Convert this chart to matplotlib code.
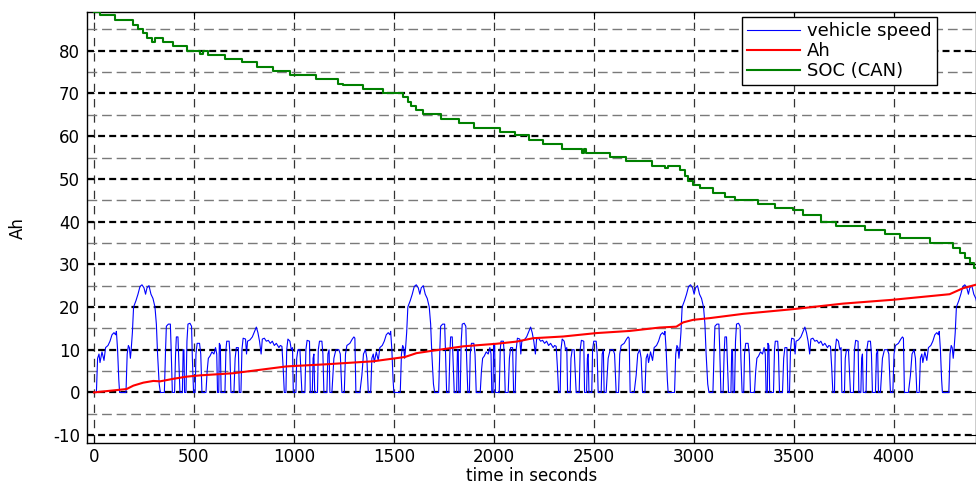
import numpy as np
import matplotlib
matplotlib.use("Agg")
import matplotlib.pyplot as plt
from matplotlib.ticker import MultipleLocator

# vehicle speed: one drive cycle (time in s, speed), repeated at the cycle starts
CYCLE_T = [0, 12, 18, 25, 30, 40, 50, 58, 70, 80, 90, 100, 108, 112, 118, 124, 128,
           160, 166, 172, 177, 182, 186, 192, 198, 210, 220, 230, 240, 250, 258, 265, 275, 285, 295, 305, 312, 318, 326, 332,
           352, 358, 362, 372, 382, 386, 392,
           403, 408, 412, 420, 424, 430,
           442, 446, 450, 453,
           460, 465, 470, 480, 488, 492, 498,
           506, 510, 516, 528, 534, 540,
           560, 566, 572, 580, 590, 600, 608, 614, 618,
           624, 627, 632, 636,
           655, 660, 664, 676, 680, 685,
           700, 706, 712, 722, 727,
           735, 740, 746, 758, 763, 768, 780, 792, 805, 812, 820, 828, 836, 842, 852, 862, 872, 882, 892, 902, 912, 925, 932, 940, 946, 952,
           960, 964, 970, 980, 987, 993, 997,
           1010, 1014, 1020, 1030, 1034, 1040,
           1055, 1060, 1066, 1078, 1082,
           1092, 1096, 1100, 1104,
           1118, 1122, 1128, 1140, 1145, 1150,
           1165, 1170, 1176, 1180,
           1190, 1200, 1210, 1225, 1232, 1240,
           1252, 1258, 1265, 1280, 1292, 1300, 1305, 1310,
           1330, 1340, 1348, 1358, 1365, 1372]
CYCLE_V = [0, 0, 8, 9, 7, 9.5, 7.5, 10.5, 11, 12, 13.5, 14, 13.5, 14.3, 10, 3, 0,
           0, 9, 11, 10.5, 8, 10, 14, 20, 21.5, 23, 24.8, 25.2, 24.5, 23, 24.5, 25, 23, 22, 20, 16, 9, 2, 0,
           0, 10, 15.5, 16, 16, 10, 0,
           0, 9, 13, 13, 8, 0,
           0, 10, 10, 0,
           0, 12, 16, 16.2, 15.5, 8, 0,
           0, 9, 11.5, 11.5, 9, 0,
           0, 5, 8, 8.5, 9.5, 9, 10.5, 9, 0,
           0, 11.5, 11, 0,
           0, 10, 12, 12, 9, 0,
           0, 8, 10.5, 10.5, 0,
           0, 10, 12.7, 12.5, 9, 12, 12.3, 13, 14.5, 15.3, 14, 12, 9, 12.5, 12.7, 12, 12.2, 11.5, 12, 11, 11.5, 10.5, 11, 10.8, 6, 0,
           0, 10, 12.5, 12, 10, 10.5, 0,
           0, 8, 10, 10, 6, 0,
           0, 10, 12.2, 12, 0,
           0, 8, 9, 0,
           0, 10, 12, 12, 9, 0,
           0, 9, 10, 0,
           0, 8, 10, 10, 9, 0,
           0, 9, 11, 11.5, 12.5, 13, 12.7, 0,
           0, 4, 9, 10, 8, 0]
CYCLE_STARTS = [0, 1372, 2744, 4116]

# Ah (cumulative)
AH_T = [0, 60, 163, 197, 247, 297, 330, 397, 463, 530, 697, 863, 963, 1163, 1397, 1555, 1613,
        1697, 1847, 2013, 2113, 2197, 2347, 2513, 2680, 2830, 2913, 2947, 2997, 3080, 3247,
        3497, 3747, 3997, 4280, 4347, 4410]
AH_V = [0, 0.3, 0.8, 1.6, 2.3, 2.7, 2.6, 3.2, 3.7, 4.0, 4.5, 5.5, 6.1, 6.6, 7.3, 8.3, 9.2,
        9.8, 10.8, 11.4, 11.9, 12.7, 13.1, 13.9, 14.4, 15.2, 15.4, 16.4, 17.0, 17.4, 18.4,
        19.5, 20.8, 21.7, 23.0, 24.4, 25.2]

# SOC from CAN, stepwise
SOC_T = [0, 30, 105, 197, 222, 243, 263, 288, 305, 347, 397, 463, 530, 547, 572, 655, 738,
         813, 897, 980, 1113, 1222, 1247, 1347, 1447, 1547, 1572, 1588, 1610, 1647, 1738,
         1827, 1900, 2030, 2108, 2175, 2247, 2342, 2440, 2450, 2463, 2580, 2663, 2793, 2855,
         2870, 2930, 2955, 2972, 2997, 3030, 3097, 3155, 3205, 3322, 3405, 3497, 3547, 3638,
         3713, 3855, 3955, 4030, 4180, 4297, 4330, 4355, 4380, 4400, 4412]
SOC_V = [89.1, 88.4, 87.1, 86.1, 85.1, 84.1, 83.0, 82.0, 83.0, 82.0, 81.2, 80.0, 79.3, 80.0, 79.1,
         78.1, 77.4, 76.1, 75.2, 74.4, 73.3, 72.3, 72.0, 71.1, 70.1, 69.1, 68.0, 67.0, 66.2,
         65.1, 64.1, 63.0, 62.0, 61.0, 60.2, 59.2, 58.1, 57.0, 56.1, 57.0, 56.1, 55.1, 54.1,
         53.1, 52.5, 53.1, 52.1, 50.7, 49.5, 48.5, 47.8, 46.7, 45.8, 45.1, 44.2, 43.2, 42.7,
         41.6, 40.0, 39.0, 38.1, 37.1, 36.2, 35.0, 33.8, 32.6, 31.4, 30.2, 29.2, 29.2]

plt.rcParams['font.family'] = ['DejaVu Sans']
plt.rcParams['lines.scale_dashes'] = False
plt.rcParams['axes.unicode_minus'] = False

fig = plt.figure(figsize=(9.76, 4.84), dpi=100)
ax = fig.add_axes([87 / 976, 1 - 443.3 / 484, 889 / 976, 431.3 / 484])

speed_t = np.concatenate([np.array(CYCLE_T) + s for s in CYCLE_STARTS])
speed_v = np.concatenate([CYCLE_V for s in CYCLE_STARTS])

ax.plot(speed_t, speed_v, color='#0000ff', lw=0.8, label='vehicle speed', zorder=3)
ax.plot(AH_T, AH_V, color='#ff0000', lw=1.5, label='Ah', zorder=4)
ax.plot(SOC_T, SOC_V, color='#008000', lw=1.5, drawstyle='steps-post', label='SOC (CAN)', zorder=4)

ax.set_xlim(-35, 4412)
ax.set_ylim(-11.9, 89.06)
ax.set_xticks(np.arange(0, 4001, 500))
ax.set_yticks(np.arange(-10, 81, 10))
ax.yaxis.set_minor_locator(MultipleLocator(5))

# matlab-ish dashed grid
ax.grid(True, axis='y', which='major', color='black', lw=1.6, linestyle=(0, (5, 3)))
ax.grid(True, axis='y', which='minor', color='#7a7a7a', lw=1.0, linestyle=(0, (7, 3.5)))
ax.grid(True, axis='x', which='major', color='#333333', lw=0.9, linestyle=(0, (6, 5)))
ax.set_axisbelow(True)

ax.tick_params(axis='both', which='both', direction='in', labelsize=12, top=True, right=True)
ax.tick_params(axis='both', which='major', length=5, width=0.8)
ax.tick_params(axis='both', which='minor', length=0)
ax.tick_params(axis='x', pad=3.5)
ax.tick_params(axis='y', pad=5)
for sp in ax.spines.values():
    sp.set_linewidth(1.0)

ax.set_xlabel('time in seconds', fontsize=12)
ax.set_ylabel('Ah', fontsize=12)
ax.xaxis.set_label_coords(0.5, -0.054)
ax.yaxis.set_label_coords(-0.068, 0.5)

leg = ax.legend(loc='upper left', bbox_to_anchor=(742 / 976, 1 - 17 / 484),
                bbox_transform=fig.transFigure, fontsize=13, frameon=True, fancybox=False,
                framealpha=1, edgecolor='black', borderpad=0.3, labelspacing=0.1,
                handlelength=2.9, handletextpad=0.4, borderaxespad=0)
leg.get_frame().set_linewidth(1.0)

fig.savefig('out.png', dpi=100)
